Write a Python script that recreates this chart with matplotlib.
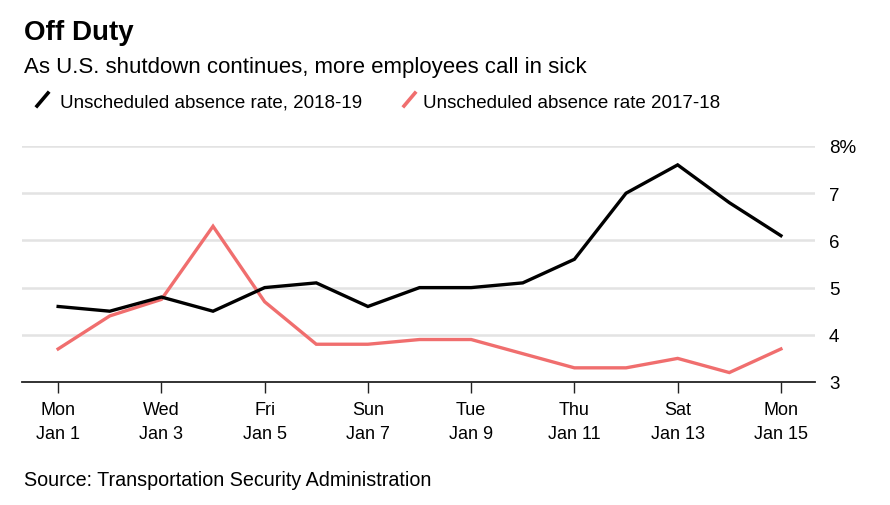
import numpy as np
import matplotlib.pyplot as plt
from matplotlib.lines import Line2D

plt.rcParams['font.family'] = ['Liberation Sans', 'DejaVu Sans']

# data (Jan 1 .. Jan 15)
days = list(range(1, 16))
rate_2018_19 = [4.6, 4.5, 4.8, 4.5, 5.0, 5.1, 4.6, 5.0, 5.0, 5.1, 5.6, 7.0, 7.6, 6.8, 6.1]
rate_2017_18 = [3.7, 4.4, 4.75, 6.3, 4.7, 3.8, 3.8, 3.9, 3.9, 3.6, 3.3, 3.3, 3.5, 3.2, 3.7]
tick_days = [1, 3, 5, 7, 9, 11, 13, 15]
tick_labels = ['Mon\nJan 1', 'Wed\nJan 3', 'Fri\nJan 5', 'Sun\nJan 7',
               'Tue\nJan 9', 'Thu\nJan 11', 'Sat\nJan 13', 'Mon\nJan 15']
y_ticks = [3, 4, 5, 6, 7, 8]
y_labels = ['3', '4', '5', '6', '7', '8%']

black = '#000000'
red = '#f06e6e'

fig = plt.figure(figsize=(8.9, 5.06), dpi=100)
ax = fig.add_axes([22/890, 1 - 383/506, (815-22)/890, (383-147)/506])

for y in y_ticks[1:]:
    ax.axhline(y, color='#e3e3e3', lw=1.8, zorder=0)

ax.plot(days, rate_2017_18, color=red, lw=2.4, zorder=3, solid_joinstyle='miter')
ax.plot(days, rate_2018_19, color=black, lw=2.4, zorder=4, solid_joinstyle='miter')

ax.set_xlim(0.3, 15.66)
ax.set_ylim(3, 8)
for s in ['top', 'left', 'right']:
    ax.spines[s].set_visible(False)
ax.spines['bottom'].set_linewidth(1.3)
ax.spines['bottom'].set_color('#222222')

ax.set_xticks(tick_days)
ax.set_xticklabels(tick_labels, fontsize=13, linespacing=1.5)
ax.tick_params(axis='x', length=8, width=1, color='#222222', pad=6)

ax.yaxis.tick_right()
ax.set_yticks(y_ticks)
ax.set_yticklabels(y_labels, fontsize=13.5)
ax.tick_params(axis='y', length=0, pad=10)

fig.text(24/890, 1 - 40/506, 'Off Duty', fontsize=20, fontweight='bold')
fig.text(24/890, 1 - 73/506, 'As U.S. shutdown continues, more employees call in sick', fontsize=16)

# legend with short slanted strokes
fig.add_artist(Line2D([37/890, 48/890], [1 - 107/506, 1 - 94/506], color=black, lw=2.6))
fig.text(60/890, 1 - 108/506, 'Unscheduled absence rate, 2018-19', fontsize=13.5)
fig.add_artist(Line2D([404/890, 415/890], [1 - 107/506, 1 - 94/506], color=red, lw=2.6))
fig.text(423/890, 1 - 108/506, 'Unscheduled absence rate 2017-18', fontsize=13.5)

fig.text(24/890, 1 - 486/506, 'Source: Transportation Security Administration', fontsize=14.2)

fig.savefig('out.png', dpi=100)
